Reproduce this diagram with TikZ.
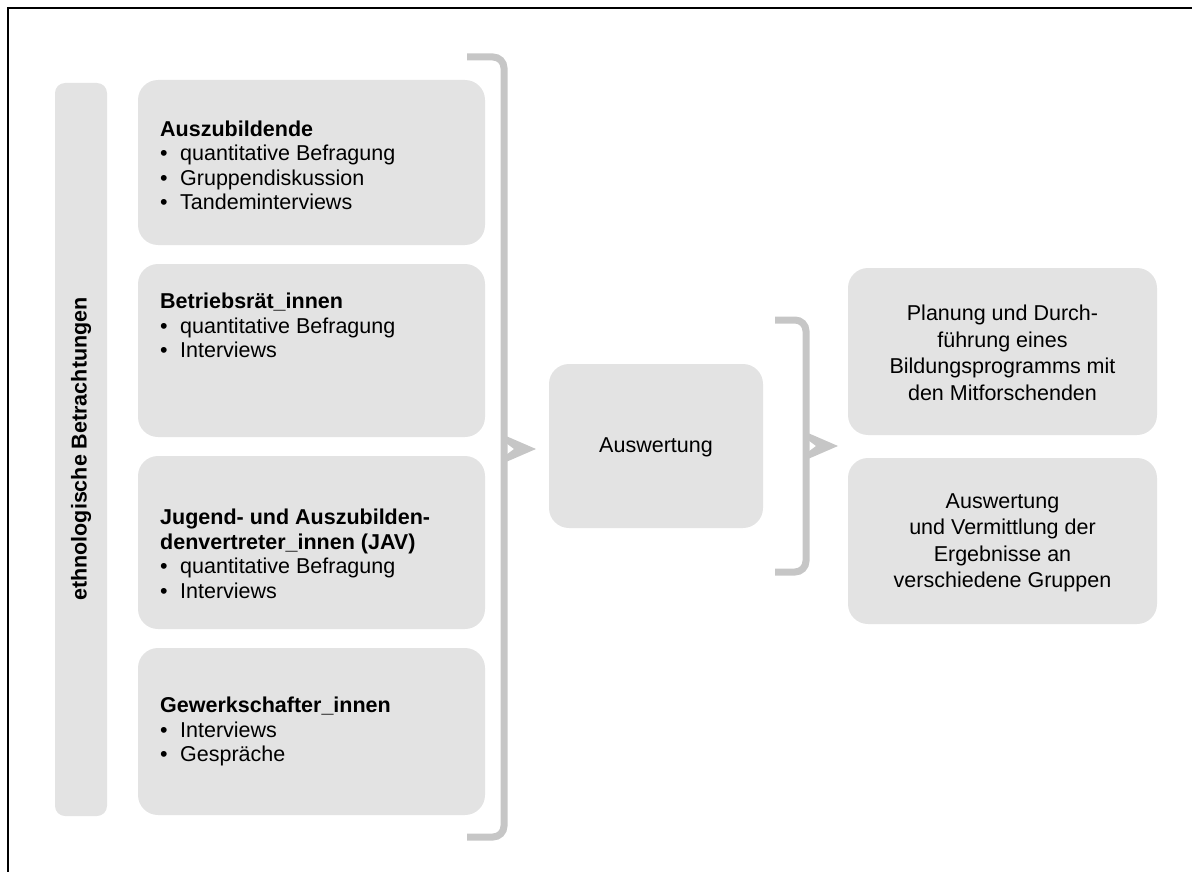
\documentclass[tikz,border=0pt]{standalone}
\usepackage{fontspec}
\setmainfont{Liberation Sans}
\definecolor{boxgray}{HTML}{E3E3E3}
\definecolor{brgray}{HTML}{C6C6C6}
\tikzset{
  gbox/.style={fill=boxgray, rounded corners=20pt},
  bar/.style={fill=boxgray, rounded corners=10pt},
  brk/.style={draw=brgray, line width=7pt, rounded corners=11pt},
  chev/.style={fill=brgray},
  ltxt/.style={anchor=west, align=left, inner sep=0pt, font=\fontsize{21.5}{24.5}\selectfont},
  ctxt/.style={anchor=center, align=center, inner sep=0pt, font=\fontsize{21.5}{26.5}\selectfont},
}
\newcommand{\bul}{\makebox[20pt][l]{•}}
\begin{document}
\begin{tikzpicture}[x=1pt,y=-1pt]
\useasboundingbox (0,0) rectangle (1192,872);
% frame
\draw[line width=1.5pt] (8,872) -- (8,8) -- (1192,8);
% side bar
\fill[bar] (55,83) rectangle (107,816);
\node[rotate=90, inner sep=0pt, font=\fontsize{21.5}{24}\selectfont\bfseries] (side) at (81,449) {ethnologische Betrachtungen};
% left boxes
\fill[gbox] (138,80) rectangle (485,245);
\fill[gbox] (138,264) rectangle (485,437);
\fill[gbox] (138,456) rectangle (485,629);
\fill[gbox] (138,648) rectangle (485,815);
\node[ltxt] (t1) at (160,165.5) {\textbf{Auszubildende}\\\bul quantitative Befragung\\\bul Gruppendiskussion\\\bul Tandeminterviews};
\node[ltxt] (t2) at (160,325.5) {\textbf{Betriebsrät\_innen}\\\bul quantitative Befragung\\\bul Interviews};
\node[ltxt] (t3) at (160,554) {\textbf{Jugend- und Auszubilden-}\\\textbf{denvertreter\_innen (JAV)}\\\bul quantitative Befragung\\\bul Interviews};
\node[ltxt] (t4) at (160,731.5) {\textbf{Gewerkschafter\_innen}\\\bul Interviews\\\bul Gespräche};
% big bracket
\draw[brk] (467,57) -- (504,57) -- (504,837) -- (467,837);
\fill[chev] (506,436) -- (536,449) -- (506,462) -- (506,455) -- (514,449) -- (506,443) -- cycle;
% middle box
\fill[gbox] (549,364) rectangle (763,528);
\node[ctxt] (aus) at (656,447) {Auswertung};
% small bracket
\draw[brk] (775,320) -- (806,320) -- (806,572) -- (775,572);
\fill[chev] (808,433) -- (838,446) -- (808,459) -- (808,452) -- (816,446) -- (808,440) -- cycle;
% right boxes
\fill[gbox] (848,268) rectangle (1157,435);
\fill[gbox] (848,458) rectangle (1157,624);
\node[ctxt] (r1) at (1002.5,353) {Planung und Durch-\\führung eines\\Bildungsprogramms mit\\den Mitforschenden};
\node[ctxt] (r2) at (1002.5,543) {Auswertung\\und Vermittlung der\\Ergebnisse an\\verschiedene Gruppen};
\end{tikzpicture}
\end{document}
